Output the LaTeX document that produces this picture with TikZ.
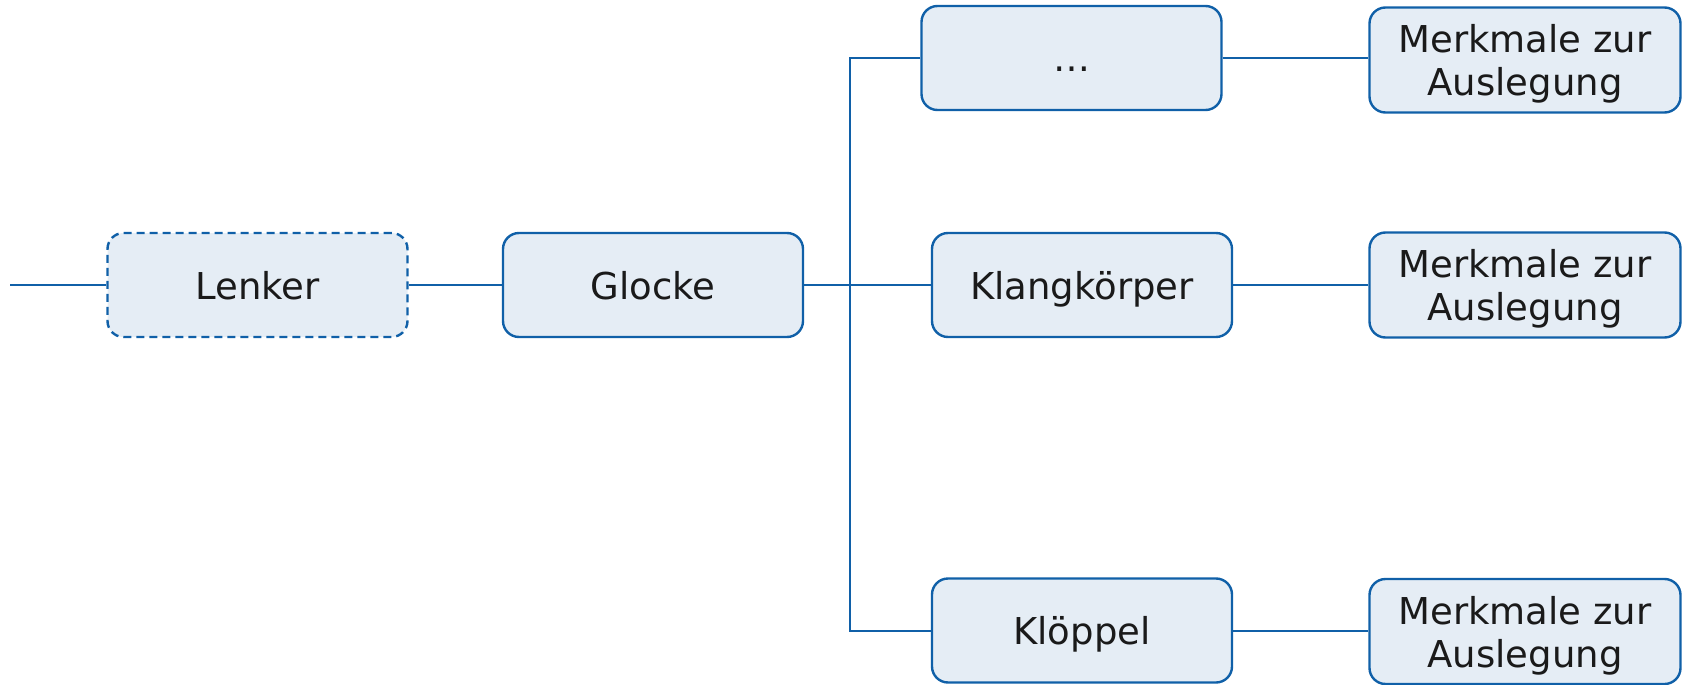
\documentclass[tikz,border=0pt]{standalone}
\usepackage{fontspec}
\setmainfont{DejaVu Sans}
\begin{document}
\begin{tikzpicture}[x=1pt,y=-1pt,
  every node/.style={font=\fontsize{37}{43}\selectfont, text=textdark},
  box/.style={draw=lineblue, fill=boxfill, line width=2.4pt, rounded corners=16pt,
    minimum height=104pt, inner sep=0pt, text depth=0pt, align=center},
  wide/.style={box, minimum width=300pt},
  feat/.style={box, minimum width=311pt, minimum height=105pt},
  link/.style={draw=lineblue, line width=2pt}]
\definecolor{lineblue}{RGB}{16,96,168}
\definecolor{boxfill}{RGB}{229,237,245}
\definecolor{textdark}{RGB}{26,26,26}
\useasboundingbox (0,0) rectangle (1682,685);

% main chain
\node[wide, dash pattern=on 8pt off 5pt] (lenker) at (257.5,285) {Lenker};
\node[wide] (glocke) at (653,285) {Glocke};

% sub-components
\node[wide] (etc)   at (1071.5,58) {\vphantom{A}…};
\node[wide] (klang) at (1082,285) {Klangkörper};
\node[wide] (kloe)  at (1082,630.5) {Klöppel};

% design features
\node[feat] (m1) at (1525,60)  {Merkmale zur\\Auslegung};
\node[feat] (m2) at (1525,285) {Merkmale zur\\Auslegung};
\node[feat] (m3) at (1525,631.5) {Merkmale zur\\Auslegung};

% connectors
\coordinate (in) at (10,285);
\coordinate (trunk) at (850,0);
\draw[link] (in) -- (lenker.west);
\draw[link] (lenker.east) -- (glocke.west);
\draw[link] (glocke.east) -- (klang.west);
\draw[link] (etc.west) -- (etc.west -| trunk) -- (kloe.west -| trunk) -- (kloe.west);
\draw[link] (etc.east) -- (etc.east -| m1.west);
\draw[link] (klang.east) -- (m2.west);
\draw[link] (kloe.east) -- (kloe.east -| m3.west);
\end{tikzpicture}
\end{document}
